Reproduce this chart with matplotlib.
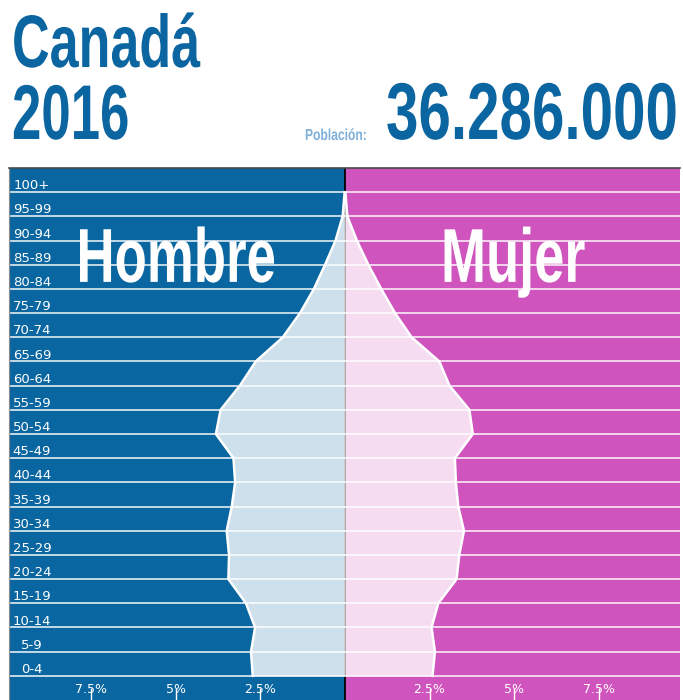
import matplotlib
matplotlib.use('Agg')
import matplotlib.pyplot as plt
from matplotlib.patheffects import AbstractPathEffect
from matplotlib.transforms import Affine2D, blended_transform_factory

ages = ['0-4', '5-9', '10-14', '15-19', '20-24', '25-29', '30-34', '35-39',
        '40-44', '45-49', '50-54', '55-59', '60-64', '65-69', '70-74',
        '75-79', '80-84', '85-89', '90-94', '95-99', '100+']
# % of total population
male = [2.73, 2.78, 2.66, 2.93, 3.45, 3.43, 3.50, 3.35, 3.25, 3.30, 3.82,
        3.68, 3.11, 2.64, 1.84, 1.33, 0.92, 0.59, 0.28, 0.07, 0.01]
female = [2.59, 2.66, 2.56, 2.76, 3.30, 3.38, 3.52, 3.35, 3.28, 3.25, 3.78,
          3.68, 3.09, 2.79, 1.97, 1.48, 1.07, 0.69, 0.35, 0.07, 0.01]
tick_vals = [-7.5, -5, -2.5, 2.5, 5, 7.5]
tick_labels = ['7.5%', '5%', '2.5%', '2.5%', '5%', '7.5%']

country = 'Canadá'
year = '2016'
population = '36.286.000'

BLUE = '#0A66A0'
PINK = '#D054BD'
TITLE = '#0B65A0'
LIGHT = '#7FB0DA'


class Stretch(AbstractPathEffect):
    # stretch glyphs vertically from the baseline (fake condensed font)
    def __init__(self, sy):
        super().__init__()
        self.sy = sy

    def draw_path(self, renderer, gc, tpath, affine, rgbFace=None):
        renderer.draw_path(gc, tpath, Affine2D().scale(1, self.sy) + affine, rgbFace)


fig = plt.figure(figsize=(6.83, 7.0), dpi=100)
ax = fig.add_axes([9 / 683, 0, 671 / 683, 532 / 700])
ax.set_xlim(-9.94, 9.91)
ax.set_ylim(-1, 21)

y = list(range(len(ages)))

ax.axvspan(-9.94, 0, color=BLUE, lw=0, zorder=0)
ax.axvspan(0, 9.91, color=PINK, lw=0, zorder=0)
ax.axvline(0, color='black', lw=1.3, zorder=0.5)

ax.fill_betweenx(y, [-v for v in male], 0, color='white', alpha=0.8, lw=0, zorder=1)
ax.fill_betweenx(y, 0, female, color='white', alpha=0.8, lw=0, zorder=1)
for yy in y:
    ax.axhline(yy, color='white', alpha=0.75, lw=1.4, zorder=2)
ax.plot([-v for v in male], y, color='white', lw=1.8, zorder=3)
ax.plot(female, y, color='white', lw=1.8, zorder=3)

trans = blended_transform_factory(ax.transAxes, ax.transData)
for i, lab in enumerate(ages):
    ax.text(0.0343, i + 0.12, lab, transform=trans, ha='center', va='baseline',
            color='white', fontsize=9.5, family='DejaVu Sans', zorder=4)

ax.set_xticks(tick_vals)
ax.set_xticklabels(tick_labels)
ax.tick_params(axis='x', direction='in', length=9, width=1, color='white',
               labelcolor='white', labelsize=9, pad=-12)
ax.set_yticks([])
ax.set_axisbelow(False)
for s in ['right', 'bottom']:
    ax.spines[s].set_visible(False)
ax.spines['top'].set_color('#4a4a4a')
ax.spines['top'].set_linewidth(1.2)
ax.spines['left'].set_color('#8a8a8a')

ax.text(-5, 16.29, 'Hombre', ha='center', va='baseline', color='white',
        fontsize=38, fontweight='bold', family='Liberation Sans',
        path_effects=[Stretch(1.45)], zorder=5)
ax.text(4.97, 16.29, 'Mujer', ha='center', va='baseline', color='white',
        fontsize=39, fontweight='bold', family='Liberation Sans',
        path_effects=[Stretch(1.41)], zorder=5)

fig.text(12 / 683, 1 - 67 / 700, country, ha='left', va='baseline', color=TITLE,
         fontsize=37.5, fontweight='bold', family='Liberation Sans',
         path_effects=[Stretch(1.43)])
fig.text(12 / 683, 1 - 139 / 700, year, ha='left', va='baseline', color=TITLE,
         fontsize=38, fontweight='bold', family='Liberation Sans',
         path_effects=[Stretch(1.47)])
fig.text(305 / 683, 1 - 140 / 700, 'Población:', ha='left', va='baseline', color=LIGHT,
         fontsize=8.7, fontweight='bold', family='Liberation Sans',
         path_effects=[Stretch(1.32)])
fig.text(678 / 683, 1 - 139 / 700, population, ha='right', va='baseline', color=TITLE,
         fontsize=42, fontweight='bold', family='Liberation Sans',
         path_effects=[Stretch(1.38)])

fig.savefig('out.png', dpi=100)
